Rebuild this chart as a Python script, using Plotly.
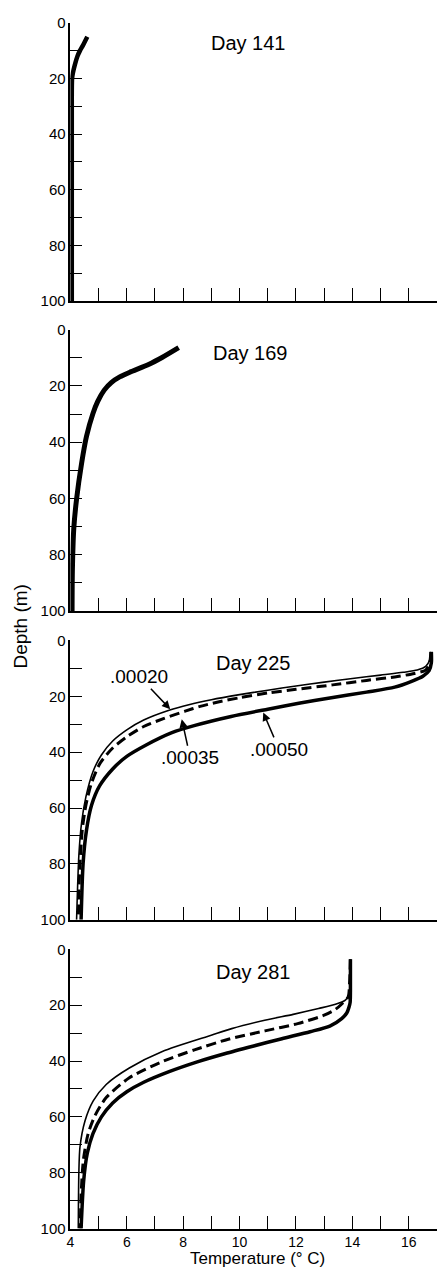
import plotly.graph_objects as go

# ---------------- data ----------------
day_labels = ["Day 141", "Day 169", "Day 225", "Day 281"]

# Day 141 (overlapping profiles)
d141_depth = [5, 8, 10, 12, 15, 18, 20, 25, 30, 40, 60, 80, 100]
d141_temp = [4.6, 4.45, 4.34, 4.25, 4.16, 4.09, 4.06, 4.05, 4.05, 4.05, 4.05, 4.05, 4.05]

# Day 169 (overlapping profiles)
d169_depth = [6.4, 9.9, 12.3, 15.2, 16.8, 18.8, 21.5, 25.5, 29.8, 38, 47.4, 60.2, 70.8, 86, 100]
d169_temp = [7.84, 7.25, 6.79, 6.09, 5.75, 5.45, 5.2, 4.97, 4.80, 4.57, 4.40, 4.22, 4.12, 4.07, 4.06]

# Day 225
d225_thin_depth = [4.1, 7, 9.3, 10.6, 11.4, 12.4, 13.6, 14.9, 16.3, 17.8, 19.4, 21.2, 23.0, 25, 28.5, 32, 36, 41, 47, 56, 65, 77, 100]
d225_thin_temp = [16.78, 16.74, 16.6, 16.3, 15.8, 15.0, 14.0, 13.0, 12.0, 11.0, 10.0, 9.0, 8.2, 7.5, 6.6, 6.0, 5.5, 5.1, 4.8, 4.55, 4.4, 4.3, 4.22]

d225_dash_depth = [4.1, 8, 10.6, 11.8, 12.9, 14.3, 15.9, 17.5, 18.8, 20.5, 22.1, 23.6, 25.3, 28, 30.8, 34.5, 38.5, 44, 51, 59, 68, 82, 100]
d225_dash_temp = [16.78, 16.74, 16.6, 16.2, 15.6, 14.5, 13.3, 12.0, 11.0, 10.0, 9.2, 8.6, 8.07, 7.3, 6.6, 6.0, 5.5, 5.05, 4.75, 4.55, 4.42, 4.33, 4.28]

d225_thick_depth = [4.1, 8, 10.8, 12.8, 14.6, 16.7, 18.5, 20.6, 22.5, 24.6, 27.2, 30.4, 33, 37.5, 41.5, 46, 52, 59, 68, 80, 100]
d225_thick_temp = [16.8, 16.8, 16.72, 16.5, 16.1, 15.5, 14.5, 13.2, 12.1, 11.0, 9.7, 8.42, 7.6, 6.67, 6.0, 5.5, 5.04, 4.75, 4.57, 4.45, 4.38]

# Day 281
d281_thin_depth = [3.6, 10, 16, 18.2, 19.7, 21.2, 23.3, 25.4, 28.4, 30.7, 36.6, 42.5, 48.4, 54.3, 61.4, 70.8, 80, 100]
d281_thin_temp = [13.93, 13.92, 13.9, 13.75, 13.4, 12.8, 11.9, 10.89, 9.72, 9.02, 7.26, 6.09, 5.27, 4.81, 4.52, 4.34, 4.3, 4.28]

d281_dash_depth = [3.6, 12, 17, 19.3, 21.5, 23.6, 26.6, 29.2, 32.2, 36, 40.2, 46, 53.1, 59.6, 66, 75.5, 88, 100]
d281_dash_temp = [13.93, 13.9, 13.85, 13.65, 13.4, 13.0, 12.06, 10.9, 9.6, 8.4, 7.26, 6.09, 5.27, 4.87, 4.63, 4.46, 4.38, 4.35]

d281_thick_depth = [3.6, 15, 19, 20.7, 22.8, 24.8, 27.5, 29.5, 32, 34.6, 37.3, 40.3, 43.8, 47.6, 51, 55, 60, 66, 73, 83, 100]
d281_thick_temp = [13.93, 13.93, 13.92, 13.88, 13.8, 13.62, 13.2, 12.5, 11.5, 10.5, 9.5, 8.5, 7.5, 6.6, 6.0, 5.5, 5.1, 4.8, 4.6, 4.47, 4.38]

curve_labels = [".00020", ".00035", ".00050"]

x_tickvals = list(range(4, 18))
x_ticktext = [str(v) if v % 2 == 0 and v <= 16 else "" for v in x_tickvals]
y_tickvals = list(range(0, 101, 10))
y_ticktext = [str(v) if v % 20 == 0 else "" for v in y_tickvals]

# ---------------- figure ----------------
W, H = 437, 1278
FONT = "Liberation Sans, Arial, Helvetica, sans-serif"

def fx(p):  # page x pixel -> paper fraction
    return p / W

def fy(p):  # page y pixel -> paper fraction
    return 1 - p / H

panel_px = [(14, 296), (325, 610), (640, 923), (953, 1236)]

fig = go.Figure()

def add(x, y, idx, width, dash="solid"):
    ax = "" if idx == 1 else str(idx)
    fig.add_trace(go.Scatter(
        x=x, y=y, mode="lines", xaxis="x" + ax, yaxis="y" + ax,
        line=dict(color="black", width=width, dash=dash, shape="spline", smoothing=0.7),
        showlegend=False, hoverinfo="skip"))

add(d141_temp, d141_depth, 1, 4.5)
add(d169_temp, d169_depth, 2, 5)
add(d225_thin_temp, d225_thin_depth, 3, 1.6)
add(d225_dash_temp, d225_dash_depth, 3, 3, dash="10px,5px")
add(d225_thick_temp, d225_thick_depth, 3, 3.5)
add(d281_thin_temp, d281_thin_depth, 4, 1.6)
add(d281_dash_temp, d281_dash_depth, 4, 3, dash="10px,5px")
add(d281_thick_temp, d281_thick_depth, 4, 3.5)

layout = dict(
    width=W, height=H,
    margin=dict(l=0, r=0, t=0, b=0),
    paper_bgcolor="white", plot_bgcolor="white",
    font=dict(family=FONT, color="black", size=15),
)

for i, (top, bot) in enumerate(panel_px, start=1):
    ax = "" if i == 1 else str(i)
    layout["xaxis" + ax] = dict(
        domain=[fx(67), 1], range=[4, 17], anchor="y" + ax,
        showgrid=False, zeroline=False, showline=True, linecolor="black", linewidth=1.5,
        ticks="inside", ticklen=13, tickwidth=1.2, tickcolor="black",
        tickmode="array", tickvals=x_tickvals, ticktext=x_ticktext,
        showticklabels=(i == 4), tickfont=dict(size=14, family=FONT),
    )
    layout["yaxis" + ax] = dict(
        domain=[fy(bot), fy(top)], range=[100, 0], anchor="x" + ax,
        showgrid=False, zeroline=False, showline=True, linecolor="black", linewidth=1.5,
        ticks="inside", ticklen=12, tickwidth=1.2, tickcolor="black",
        tickmode="array", tickvals=y_tickvals, ticktext=y_ticktext,
        tickfont=dict(size=15, family=FONT),
    )

fig.update_layout(**layout)

# Day labels
day_pos = [(10.3, 7.4), (10.4, 8.4), (10.5, 8.0), (10.5, 8.0)]
for i, (lab, (tx, ty)) in enumerate(zip(day_labels, day_pos), start=1):
    ax = "" if i == 1 else str(i)
    fig.add_annotation(x=tx, y=ty, xref="x" + ax, yref="y" + ax, text=lab,
                       showarrow=False, font=dict(size=20, family=FONT))

# Curve labels with arrows (Day 225)
arrow_tips = [(7.54, 24.6), (7.95, 28.2), (10.84, 25.8)]
text_pos = [(6.45, 13.0), (8.25, 42.0), (11.4, 39.0)]
for lab, (tx, ty), (ax_, ay_) in zip(curve_labels, arrow_tips, text_pos):
    fig.add_annotation(x=tx, y=ty, xref="x3", yref="y3", ax=ax_, ay=ay_,
                       axref="x3", ayref="y3", text=lab, showarrow=True,
                       arrowhead=2, arrowsize=1.1, arrowwidth=1.5, arrowcolor="black",
                       standoff=0, font=dict(size=19, family=FONT))

# Axis titles
fig.add_annotation(x=fx(17), y=fy(626), xref="paper", yref="paper", text="Depth (m)",
                   textangle=-90, showarrow=False, font=dict(size=19, family=FONT),
                   xanchor="center", yanchor="middle")
fig.add_annotation(x=fx(256), y=fy(1266), xref="paper", yref="paper",
                   text="Temperature (° C)", showarrow=False,
                   font=dict(size=17, family=FONT), xanchor="center", yanchor="middle")

fig.write_html(
    "out.html",
    config={"displayModeBar": False},
    post_script="document.body.style.margin='0';document.body.style.overflow='hidden';",
)
